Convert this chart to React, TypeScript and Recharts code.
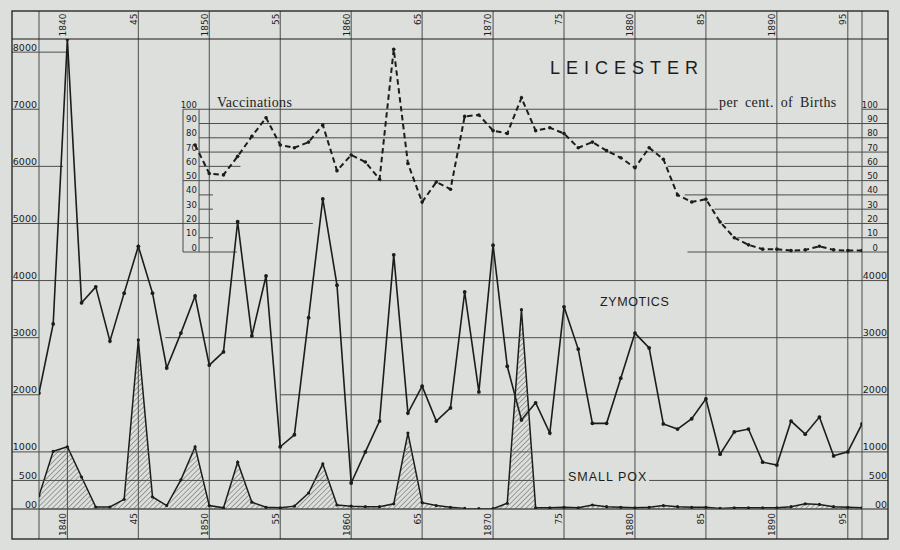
import React from 'react';
import {
  ComposedChart,
  Line,
  Area,
  Scatter,
  XAxis,
  YAxis,
  CartesianGrid,
  ReferenceLine,
} from 'recharts';

// ---------------- DATA ----------------
const YEARS = [
  1838, 1839, 1840, 1841, 1842, 1843, 1844, 1845, 1846, 1847,
  1848, 1849, 1850, 1851, 1852, 1853, 1854, 1855, 1856, 1857,
  1858, 1859, 1860, 1861, 1862, 1863, 1864, 1865, 1866, 1867,
  1868, 1869, 1870, 1871, 1872, 1873, 1874, 1875, 1876, 1877,
  1878, 1879, 1880, 1881, 1882, 1883, 1884, 1885, 1886, 1887,
  1888, 1889, 1890, 1891, 1892, 1893, 1894, 1895, 1896,
];

// deaths from zymotic diseases
const ZYMOTICS = [
  2030, 3240, 8230, 3610, 3890, 2940, 3780, 4600, 3780, 2470,
  3080, 3730, 2520, 2750, 5030, 3030, 4080, 1090, 1300, 3350,
  5430, 3920, 455, 1000, 1540, 4450, 1680, 2150, 1540, 1770,
  3800, 2050, 4620, 2500, 1560, 1860, 1330, 3540, 2800, 1500,
  1500, 2290, 3080, 2820, 1490, 1400, 1580, 1930, 960, 1350,
  1400, 820, 770, 1540, 1310, 1610, 930, 1000, 1490,
];

// deaths from small pox
const SMALL_POX = [
  230, 1010, 1090, 560, 35, 35, 170, 2960, 210, 60,
  510, 1090, 60, 20, 820, 120, 30, 20, 50, 280,
  790, 70, 50, 40, 40, 90, 1330, 110, 60, 30,
  10, 5, 5, 100, 3490, 20, 20, 30, 20, 70,
  40, 30, 20, 30, 60, 40, 30, 30, 10, 20,
  20, 20, 20, 40, 90, 80, 40, 30, 20,
];

const VACC_YEARS = [
  1849, 1850, 1851, 1852, 1853, 1854, 1855, 1856, 1857, 1858,
  1859, 1860, 1861, 1862, 1863, 1864, 1865, 1866, 1867, 1868,
  1869, 1870, 1871, 1872, 1873, 1874, 1875, 1876, 1877, 1878,
  1879, 1880, 1881, 1882, 1883, 1884, 1885, 1886, 1887, 1888,
  1889, 1890, 1891, 1892, 1893, 1894, 1895, 1896,
];

// vaccinations, per cent. of births
const VACCINATIONS = [
  75, 55, 54, 67, 81, 94, 75, 73, 77, 89,
  57, 68, 63, 51, 142, 62, 35, 49, 44, 95,
  96, 85, 83, 108, 85, 87, 83, 73, 77, 71,
  66, 59, 73, 65, 40, 35, 37, 21, 10, 5,
  2, 2, 1, 1.5, 4, 1.5, 1, 1,
];

const X_TICKS = [1838, 1840, 1845, 1850, 1855, 1860, 1865, 1870, 1875, 1880, 1885, 1890, 1895, 1896];
const X_TICK_LABELS = ['', '1840', '45', '1850', '55', '1860', '65', '1870', '75', '1880', '85', '1890', '95', ''];

const LEFT_TICKS = [0, 500, 1000, 2000, 3000, 4000, 5000, 6000, 7000, 8000];
const LEFT_TICK_LABELS = ['00', '500', '1000', '2000', '3000', '4000', '5000', '6000', '7000', '8000'];

const RIGHT_TICKS = [0, 500, 1000, 2000, 3000, 4000];
const RIGHT_TICK_LABELS = ['00', '500', '1000', '2000', '3000', '4000'];

const VACC_TICKS = [0, 10, 20, 30, 40, 50, 60, 70, 80, 90, 100];

// ---------------- SCALE / LAYOUT ----------------
const DEATHS_MAX = 8230;
const VACC_ZERO_AT = 4500; // deaths-scale value where 0 % sits
const VACC_UNIT = 25; // deaths-scale units per 1 %
const VACC_DOMAIN = [
  (0 - VACC_ZERO_AT) / VACC_UNIT,
  (DEATHS_MAX - VACC_ZERO_AT) / VACC_UNIT,
];

const W = 900;
const H = 550;
const FRAME = { left: 12, top: 11, right: 888, bottom: 539 };

const BG = '#dcdfdb';
const INK = '#1c1c1c';
const GRID = '#4c4c4c';
const NUM_FONT = '"DejaVu Sans", Verdana, sans-serif';
const SANS = '"Liberation Sans", Arial, sans-serif';
const SERIF = '"Liberation Serif", "Times New Roman", serif';

// rules of the original plate (year ranges, value)
const DEATH_RULES_FULL = [0, 1000, 4000];
const DEATH_RULES_PART = [
  { v: 8000, from: 1838, to: 1840 },
  { v: 6000, from: 1838, to: 1839.7 },
  { v: 5000, from: 1838, to: 1857.3 },
  { v: 3000, from: 1846.9, to: 1896 },
  { v: 2000, from: 1855, to: 1896 },
  { v: 500, from: 1838, to: 1875.1 },
  { v: 500, from: 1881.0, to: 1896 },
];
const VACC_BOX = { left: 1848.15, right: 1849.28 };
const VACC_RULES = [
  { v: 100, from: 1848.15, to: 1885.85 },
  { v: 90, from: 1849.28, to: 1896 },
  { v: 80, from: 1849.28, to: 1896 },
  { v: 70, from: 1849.28, to: 1896 },
  { v: 60, from: 1849.28, to: 1852.2 },
  { v: 60, from: 1882.3, to: 1896 },
  { v: 50, from: 1848.15, to: 1896 },
  { v: 40, from: 1849.28, to: 1850.26 },
  { v: 40, from: 1883.5, to: 1896 },
  { v: 30, from: 1849.28, to: 1850.26 },
  { v: 30, from: 1885.6, to: 1896 },
  { v: 20, from: 1886.3, to: 1896 },
  { v: 10, from: 1849.28, to: 1850.26 },
  { v: 10, from: 1887.2, to: 1896 },
  { v: 0, from: 1848.15, to: 1851.95 },
  { v: 0, from: 1883.7, to: 1896 },
];
const LEFT_VACC_LABEL_YEAR = 1849.13;
const NO_HEADER_RULE = [1840];

const table = YEARS.map((year, i) => ({
  year,
  zymotics: ZYMOTICS[i],
  smallpox: SMALL_POX[i],
}));
const vaccTable = VACC_YEARS.map((year, i) => ({ year, vacc: VACCINATIONS[i] }));
const vaccLabelTable = VACC_TICKS.map((v) => ({ year: LEFT_VACC_LABEL_YEAR, vacc: v }));

// ---------------- TICKS ----------------
function yearLabel(v: number) {
  const i = X_TICKS.indexOf(v);
  return i >= 0 ? X_TICK_LABELS[i] : '';
}

function TopTick(props: any) {
  const { x, y, payload } = props;
  const label = yearLabel(payload.value);
  return (
    <g>
      {NO_HEADER_RULE.indexOf(payload.value) < 0 ? (
        <line x1={x} x2={x} y1={FRAME.top} y2={y} stroke={GRID} strokeWidth={1} />
      ) : null}
      {label ? (
        <text
          transform={`translate(${x - 1.6},${FRAME.top + 2.5}) rotate(-90)`}
          textAnchor="end"
          fontSize={9}
          fontFamily={NUM_FONT}
          fill={INK}
        >
          {label}
        </text>
      ) : null}
    </g>
  );
}

function BottomTick(props: any) {
  const { x, y, payload } = props;
  const label = yearLabel(payload.value);
  return (
    <g>
      <line x1={x} x2={x} y1={y} y2={FRAME.bottom} stroke={GRID} strokeWidth={1} />
      {label ? (
        <text
          transform={`translate(${x - 1.6},${y + 4}) rotate(-90)`}
          textAnchor="end"
          fontSize={9}
          fontFamily={NUM_FONT}
          fill={INK}
        >
          {label}
        </text>
      ) : null}
    </g>
  );
}

function LeftTick(props: any) {
  const { x, y, payload } = props;
  const i = LEFT_TICKS.indexOf(payload.value);
  const label = i >= 0 ? LEFT_TICK_LABELS[i] : '';
  return (
    <g>
      <line x1={FRAME.left} x2={x} y1={y} y2={y} stroke={GRID} strokeWidth={payload.value === 0 ? 1.3 : 1} />
      <text x={x - 2} y={y - 1.5} textAnchor="end" fontSize={9.5} fontFamily={NUM_FONT} fill={INK}>
        {label}
      </text>
    </g>
  );
}

function RightTick(props: any) {
  const { x, y, payload } = props;
  const val = payload.value as number;
  let label = '';
  let tx = x + 25;
  const i = RIGHT_TICKS.indexOf(val);
  if (i >= 0) {
    label = RIGHT_TICK_LABELS[i];
  } else {
    label = String(Math.round((val - VACC_ZERO_AT) / VACC_UNIT));
    tx = x + 16;
  }
  return (
    <g>
      <line x1={x} x2={FRAME.right} y1={y} y2={y} stroke={GRID} strokeWidth={val === 0 ? 1.3 : 1} />
      <text
        x={tx}
        y={y - 1.5}
        textAnchor="end"
        fontSize={i >= 0 ? 9.5 : 8.5}
        fontFamily={NUM_FONT}
        fill={INK}
      >
        {label}
      </text>
    </g>
  );
}

const rightTickValues = [
  ...RIGHT_TICKS,
  ...VACC_TICKS.map((v) => VACC_ZERO_AT + VACC_UNIT * v),
];

function VaccLabel(props: any) {
  const { cx, cy, payload } = props;
  return (
    <text x={cx} y={cy - 1.5} textAnchor="end" fontSize={8.5} fontFamily={NUM_FONT} fill={INK}>
      {String(payload.vacc)}
    </text>
  );
}

// ---------------- APP ----------------
export default function App() {
  return (
    <div style={{ position: 'fixed', left: 0, top: 0, width: W, height: H, background: BG, overflow: 'hidden' }}>
      <ComposedChart
        width={W}
        height={H}
        data={table}
        margin={{ top: FRAME.top, right: W - FRAME.right, bottom: H - FRAME.bottom, left: FRAME.left }}
      >
        <defs>
          <pattern id="hatch" patternUnits="userSpaceOnUse" width={3.6} height={3.6} patternTransform="rotate(45)">
            <line x1={0} y1={0} x2={0} y2={3.6} stroke="#333" strokeWidth={0.8} />
          </pattern>
        </defs>

        <XAxis
          xAxisId="b"
          dataKey="year"
          type="number"
          domain={[1838, 1896]}
          allowDataOverflow
          ticks={X_TICKS}
          interval={0}
          orientation="bottom"
          height={30}
          tickSize={0}
          tickMargin={0}
          axisLine={false}
          tickLine={false}
          tick={(p: any) => <BottomTick {...p} />}
        />
        <XAxis
          xAxisId="t"
          dataKey="year"
          type="number"
          domain={[1838, 1896]}
          allowDataOverflow
          ticks={X_TICKS}
          interval={0}
          orientation="top"
          height={28}
          tickSize={0}
          tickMargin={0}
          axisLine={false}
          tickLine={false}
          tick={(p: any) => <TopTick {...p} />}
        />
        <YAxis
          yAxisId="L"
          type="number"
          domain={[0, DEATHS_MAX]}
          allowDataOverflow
          ticks={LEFT_TICKS}
          interval={0}
          width={27}
          tickSize={0}
          tickMargin={0}
          axisLine={false}
          tickLine={false}
          tick={(p: any) => <LeftTick {...p} />}
        />
        <YAxis
          yAxisId="R"
          orientation="right"
          type="number"
          domain={[0, DEATHS_MAX]}
          allowDataOverflow
          ticks={rightTickValues}
          interval={0}
          width={26}
          tickSize={0}
          tickMargin={0}
          axisLine={false}
          tickLine={false}
          tick={(p: any) => <RightTick {...p} />}
        />
        <YAxis yAxisId="V" type="number" domain={VACC_DOMAIN} allowDataOverflow hide />

        <CartesianGrid xAxisId="b" yAxisId="L" horizontal={false} stroke={GRID} strokeWidth={1} />

        {DEATH_RULES_FULL.map((v) => (
          <ReferenceLine key={`df${v}`} xAxisId="b" yAxisId="L" y={v} stroke={GRID} strokeWidth={v === 0 ? 1.3 : 1} />
        ))}
        {DEATH_RULES_PART.map((r, i) => (
          <ReferenceLine
            key={`dp${i}`}
            xAxisId="b"
            yAxisId="L"
            segment={[{ x: r.from, y: r.v }, { x: r.to, y: r.v }]}
            stroke={GRID}
            strokeWidth={1}
          />
        ))}
        {VACC_RULES.map((r, i) => (
          <ReferenceLine
            key={`vr${i}`}
            xAxisId="b"
            yAxisId="V"
            segment={[{ x: r.from, y: r.v }, { x: r.to, y: r.v }]}
            stroke={GRID}
            strokeWidth={1}
          />
        ))}
        <ReferenceLine
          xAxisId="b"
          yAxisId="V"
          segment={[{ x: VACC_BOX.left, y: 0 }, { x: VACC_BOX.left, y: 100 }]}
          stroke={GRID}
          strokeWidth={1}
        />
        <ReferenceLine
          xAxisId="b"
          yAxisId="V"
          segment={[{ x: VACC_BOX.right, y: 0 }, { x: VACC_BOX.right, y: 100 }]}
          stroke={GRID}
          strokeWidth={1}
        />

        <Area
          xAxisId="b"
          yAxisId="L"
          type="linear"
          dataKey="smallpox"
          stroke={INK}
          strokeWidth={1.5}
          fill="url(#hatch)"
          fillOpacity={1}
          dot={{ r: 1.6, fill: INK, stroke: 'none' }}
          activeDot={false}
          isAnimationActive={false}
        />
        <Line
          xAxisId="b"
          yAxisId="L"
          type="linear"
          dataKey="zymotics"
          stroke={INK}
          strokeWidth={1.6}
          dot={{ r: 1.9, fill: INK, stroke: 'none' }}
          activeDot={false}
          isAnimationActive={false}
        />
        <Line
          xAxisId="b"
          yAxisId="V"
          data={vaccTable}
          type="linear"
          dataKey="vacc"
          stroke={INK}
          strokeWidth={2}
          strokeDasharray="5.5 3.5"
          dot={{ r: 1.8, fill: INK, stroke: 'none' }}
          activeDot={false}
          isAnimationActive={false}
        />
        <Scatter
          xAxisId="b"
          yAxisId="V"
          data={vaccLabelTable}
          dataKey="vacc"
          shape={(p: any) => <VaccLabel {...p} />}
          isAnimationActive={false}
        />
      </ComposedChart>

      <svg
        width={W}
        height={H}
        style={{ position: 'absolute', left: 0, top: 0, pointerEvents: 'none' }}
      >
        <rect
          x={FRAME.left}
          y={FRAME.top}
          width={FRAME.right - FRAME.left}
          height={FRAME.bottom - FRAME.top}
          fill="none"
          stroke={INK}
          strokeWidth={1.3}
        />
        <line x1={FRAME.left} x2={FRAME.right} y1={39} y2={39} stroke={INK} strokeWidth={1.2} />
        <text x={550} y={74} fontSize={18} fontFamily={SANS} letterSpacing={6} fill={INK}>
          LEICESTER
        </text>
        <text x={217} y={107} fontSize={14} fontFamily={SERIF} letterSpacing={0.3} fill={INK}>
          Vaccinations
        </text>
        <text x={719} y={107} fontSize={14} fontFamily={SERIF} letterSpacing={0.4} wordSpacing={3} fill={INK}>
          per cent. of Births
        </text>
        <text x={600} y={306} fontSize={12.5} fontFamily={SANS} letterSpacing={0.6} fill={INK}>
          ZYMOTICS
        </text>
        <text x={568} y={481} fontSize={12.5} fontFamily={SANS} letterSpacing={1} fill={INK}>
          SMALL POX
        </text>
      </svg>
    </div>
  );
}
